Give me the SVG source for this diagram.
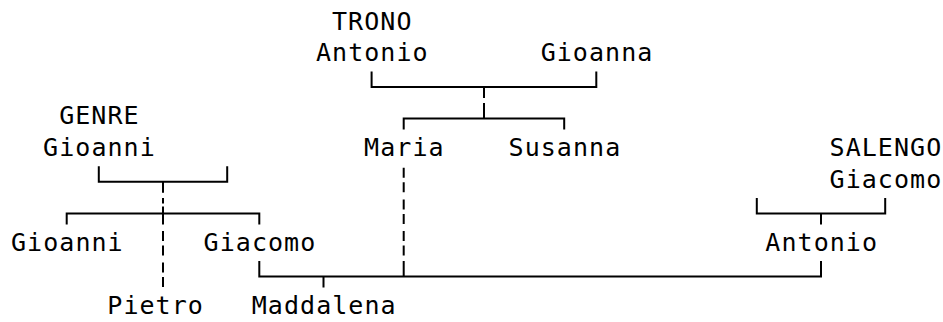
<svg xmlns="http://www.w3.org/2000/svg" width="943" height="322" viewBox="0 0 943 322">
<style>
text{font-family:"DejaVu Sans Mono","Liberation Mono",monospace;font-size:25px;letter-spacing:1.05px;fill:#000}
.ln{fill:none;stroke:#000;stroke-width:2}
</style>
<rect width="943" height="322" fill="#fff"/>
<g id="connectors" class="ln">
<path d="M371.6 71.5V87H596.3V71.5M484 87V98M484 103.1V118.6M403.7 129.6V118.6H564.2V129.6"/>
<path d="M403.7 167.8V177.8M403.7 182.3V192.3M403.7 199.4V209.4M403.7 213.9V223.9M403.7 231V241M403.7 245.5V255.5M403.7 261.1V276.6"/>
<path d="M98.8 166.3V181.8H227.2V166.3M163 181.8V192.8M163 197.9V203.5M163 206.5V224.4M66.7 224.4V213.4H259.3V224.4"/>
<path d="M163 231V241M163 245.5V255.5M163 262.6V272.6M163 277.1V287.1"/>
<path d="M756.8 197.9V213.4H885.2V197.9M821 213.4V224.4"/>
<path d="M259.3 261.1V276.6H821V261.1M323.5 276.6V287.6"/>
</g>
<g id="trono-antonio"><text x="332" y="29.5">TRONO</text><text x="315.95" y="61.1">Antonio</text></g>
<g id="gioanna"><text x="540.65" y="61.1">Gioanna</text></g>
<g id="genre-gioanni"><text x="59.15" y="124.3">GENRE</text><text x="43.1" y="155.9">Gioanni</text></g>
<g id="maria"><text x="364.1" y="155.9">Maria</text></g>
<g id="susanna"><text x="508.55" y="155.9">Susanna</text></g>
<g id="salengo-giacomo"><text x="829.55" y="155.9">SALENGO</text><text x="829.55" y="187.5">Giacomo</text></g>
<g id="gioanni"><text x="11" y="250.7">Gioanni</text></g>
<g id="giacomo"><text x="203.6" y="250.7">Giacomo</text></g>
<g id="antonio"><text x="765.35" y="250.7">Antonio</text></g>
<g id="pietro"><text x="107.3" y="313.9">Pietro</text></g>
<g id="maddalena"><text x="251.75" y="313.9">Maddalena</text></g>
</svg>
